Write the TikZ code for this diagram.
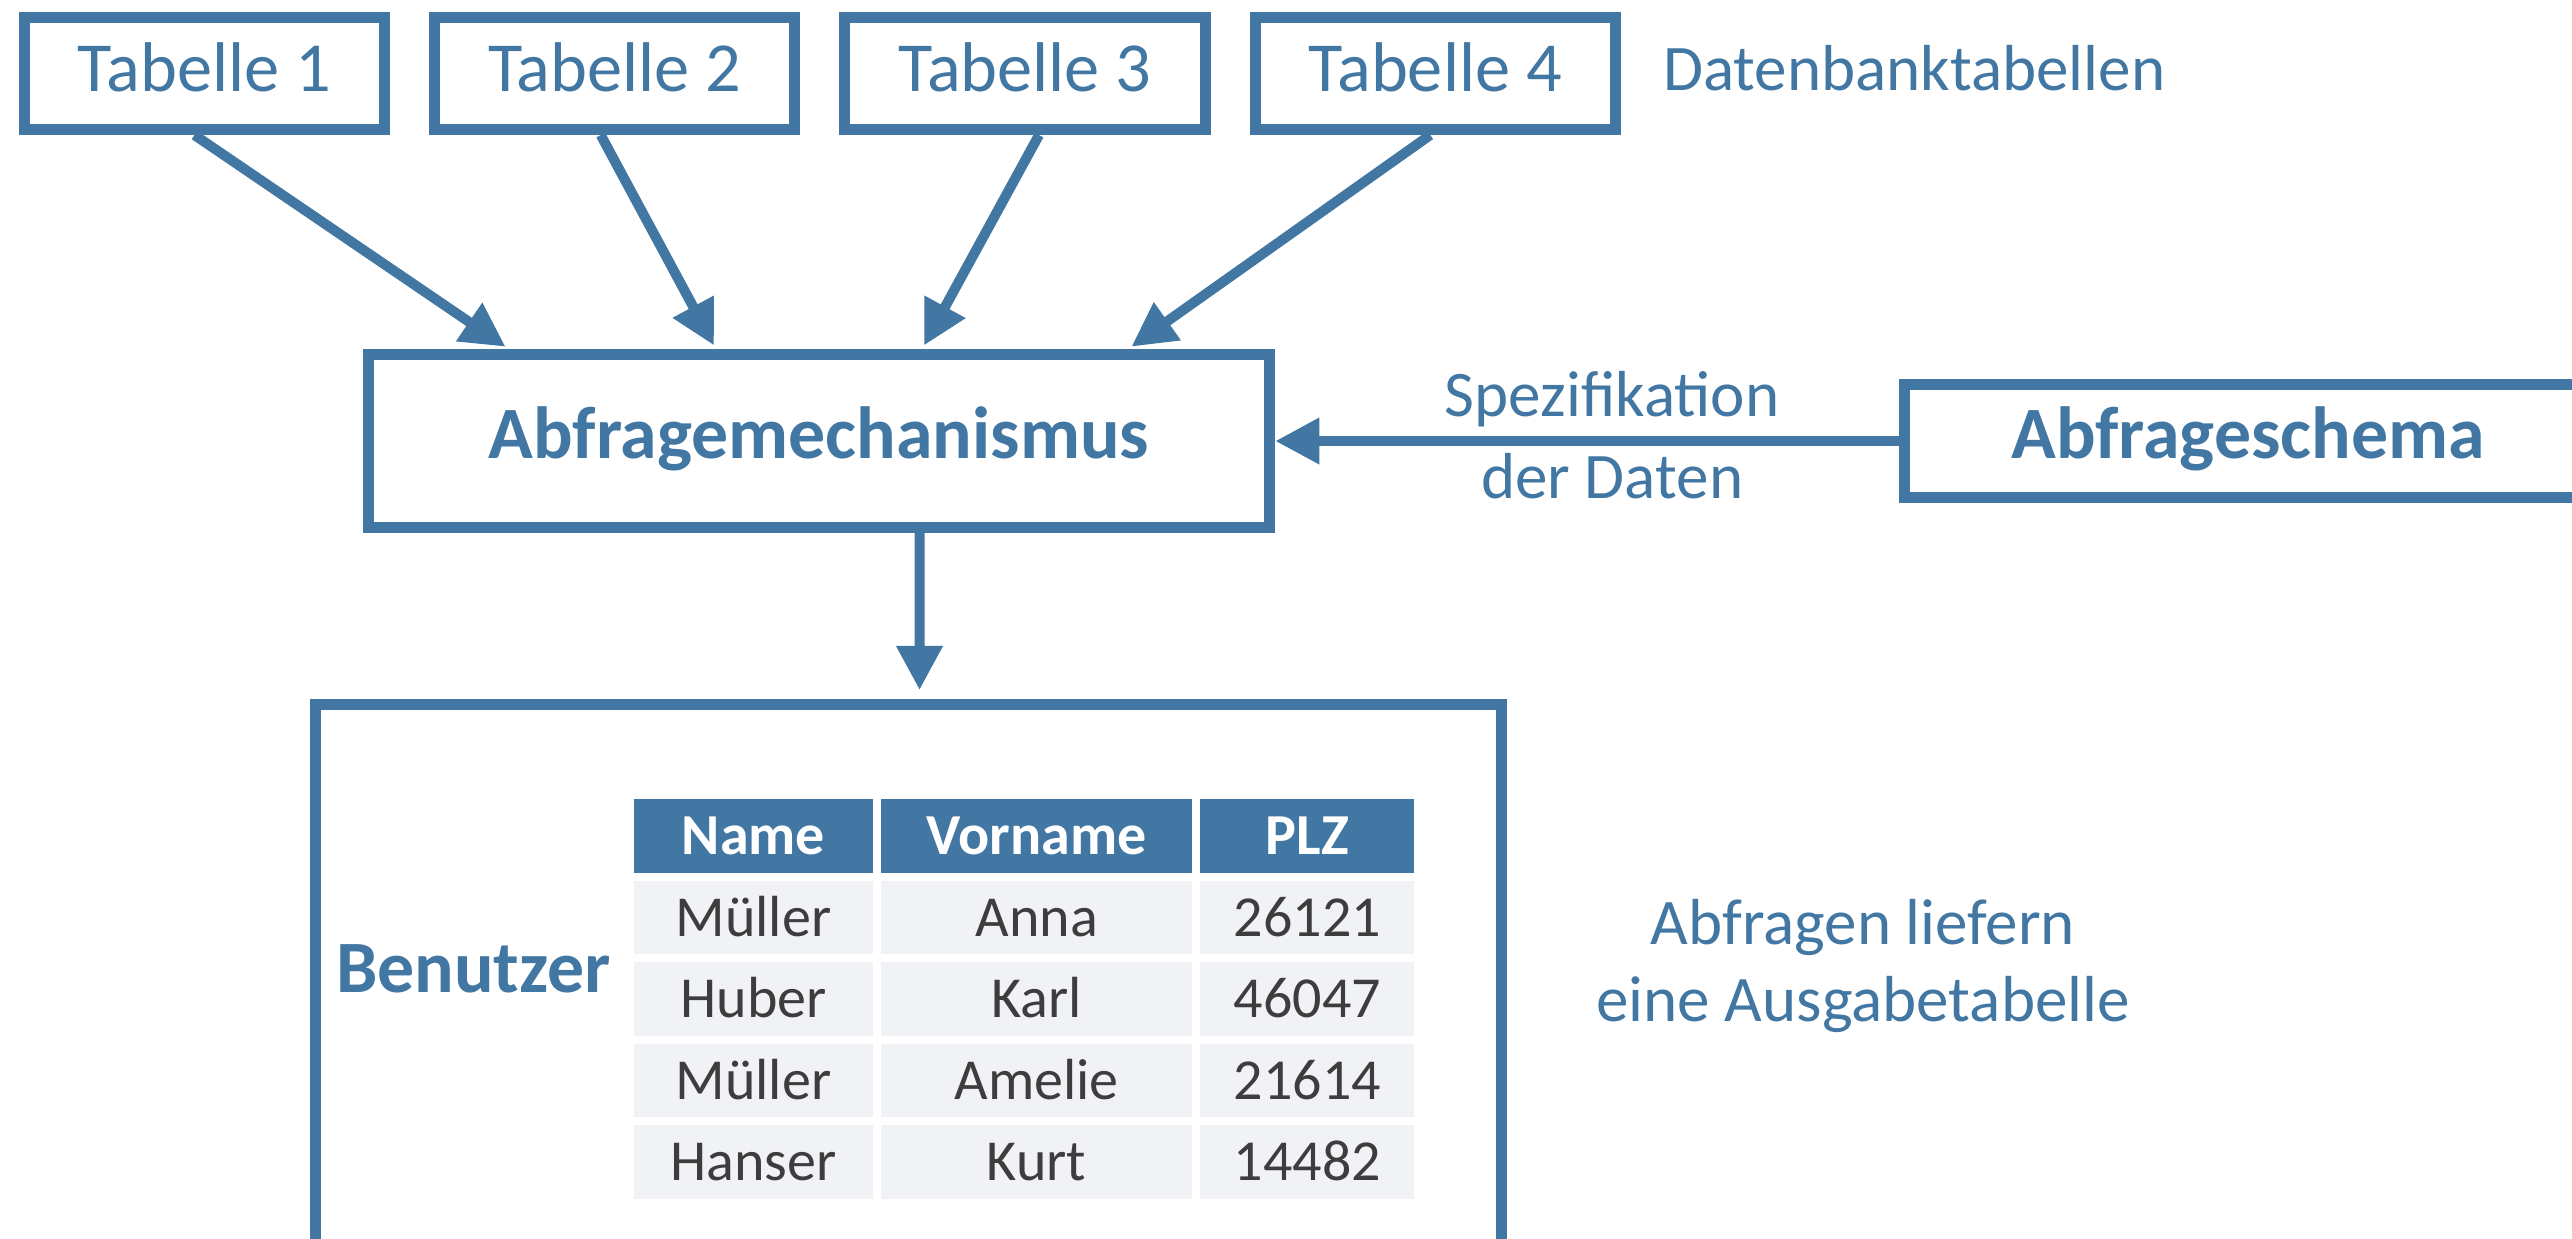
\documentclass[tikz,border=0pt]{standalone}
\usepackage{fontspec}
\setmainfont{Carlito}
\usetikzlibrary{arrows.meta, positioning}

\definecolor{dbblue}{RGB}{65,119,162}
\definecolor{cellgray}{RGB}{241,242,246}
\definecolor{textgray}{RGB}{61,61,61}

\begin{document}
\begin{tikzpicture}[x=0.01cm, y=-0.01cm,
    tabbox/.style={rectangle, draw=dbblue, line width=0.11cm, fill=white, text=dbblue,
        minimum width=3.6cm, minimum height=1.12cm,
        font=\fontsize{20}{24}\selectfont, text height=0.5cm, text depth=0.14cm},
    block/.style={tabbox, font=\fontsize{21}{25}\selectfont\bfseries,
        text height=0.5cm, text depth=0.15cm},
    note/.style={text=dbblue, font=\fontsize{18.5}{21.9}\selectfont,
        text height=0.47cm, text depth=0.14cm},
    notes/.style={text=dbblue, font=\fontsize{18.5}{21.9}\selectfont, align=center},
    cell/.style={rectangle, fill=cellgray, text=textgray, inner sep=0pt, outer sep=0pt,
        minimum height=0.735cm, font=\fontsize{16.5}{20}\selectfont,
        text height=0.45cm, text depth=0.08cm},
    head/.style={cell, fill=dbblue, text=white, font=\fontsize{16.5}{20}\selectfont\bfseries},
    flow/.style={draw=dbblue, line width=0.1cm, -{Triangle[length=0.44cm, width=0.44cm]}}]

    \useasboundingbox (0,0) rectangle (2572,1238);

    \node[tabbox] (t1) at (204.5,73.5) {Tabelle 1};
    \node[tabbox] (t2) [right=0.39cm of t1] {Tabelle 2};
    \node[tabbox] (t3) [right=0.39cm of t2] {Tabelle 3};
    \node[tabbox] (t4) [right=0.39cm of t3] {Tabelle 4};

    \node[note] (dbtab) [right=0.3cm of t4] {Datenbanktabellen};

    \node[block, minimum width=9.01cm, minimum height=1.73cm] (mech) at (819,441)
        {Abfragemechanismus};

    \node[block, anchor=west, minimum width=6.87cm, minimum height=1.13cm] (schema) at (1899,441)
        {Abfrageschema};

    \node[tabbox, anchor=north, minimum width=11.86cm, minimum height=5.8cm] (user) at (908.5,699) {};

    \node[note, font=\fontsize{21}{25}\selectfont\bfseries, text height=0.5cm] (benutzer)
        at (473.5,974) {Benutzer};

    \node[head, minimum width=2.39cm] (name0) at (753.5,836) {Name};
    \node[head, minimum width=3.11cm] (vorname0) [right=0.08cm of name0] {Vorname};
    \node[head, minimum width=2.14cm] (plz0) [right=0.08cm of vorname0] {PLZ};

    \foreach \nm/\vn/\plz [count=\r] in {Müller/Anna/26121, Huber/Karl/46047,
        Müller/Amelie/21614, Hanser/Kurt/14482} {
        \pgfmathtruncatemacro{\prev}{\r-1}
        \node[cell, minimum width=2.39cm] (name\r) [below=0.08cm of name\prev] {\nm};
        \node[cell, minimum width=3.11cm] (vorname\r) [below=0.08cm of vorname\prev] {\vn};
        \node[cell, minimum width=2.14cm] (plz\r) [below=0.08cm of plz\prev] {\plz};
    }

    \node[notes] (result) at (1863,966) {Abfragen liefern\\eine Ausgabetabelle};

    \draw[flow, shorten >=0.04cm] ([xshift=-0.1cm]t1.south) -- ([xshift=-3.1cm]mech.north);
    \draw[flow, shorten >=0.04cm] ([xshift=-0.14cm]t2.south) -- ([xshift=-1.03cm]mech.north);
    \draw[flow, shorten >=0.04cm] ([xshift=0.14cm]t3.south) -- ([xshift=1.03cm]mech.north);
    \draw[flow, shorten >=0.04cm] ([xshift=-0.05cm]t4.south) -- ([xshift=3.09cm]mech.north);

    \draw[flow] (schema.west) -- (mech.east)
        node[note, pos=0.46, above, inner sep=1.5pt] (spez) {Spezifikation}
        node[note, pos=0.46, below, inner sep=1.5pt] (daten) {der Daten};

    \draw[flow, shorten >=0.09cm] ([xshift=1.005cm]mech.south) -- ([xshift=0.11cm]user.north);

\end{tikzpicture}
\end{document}
